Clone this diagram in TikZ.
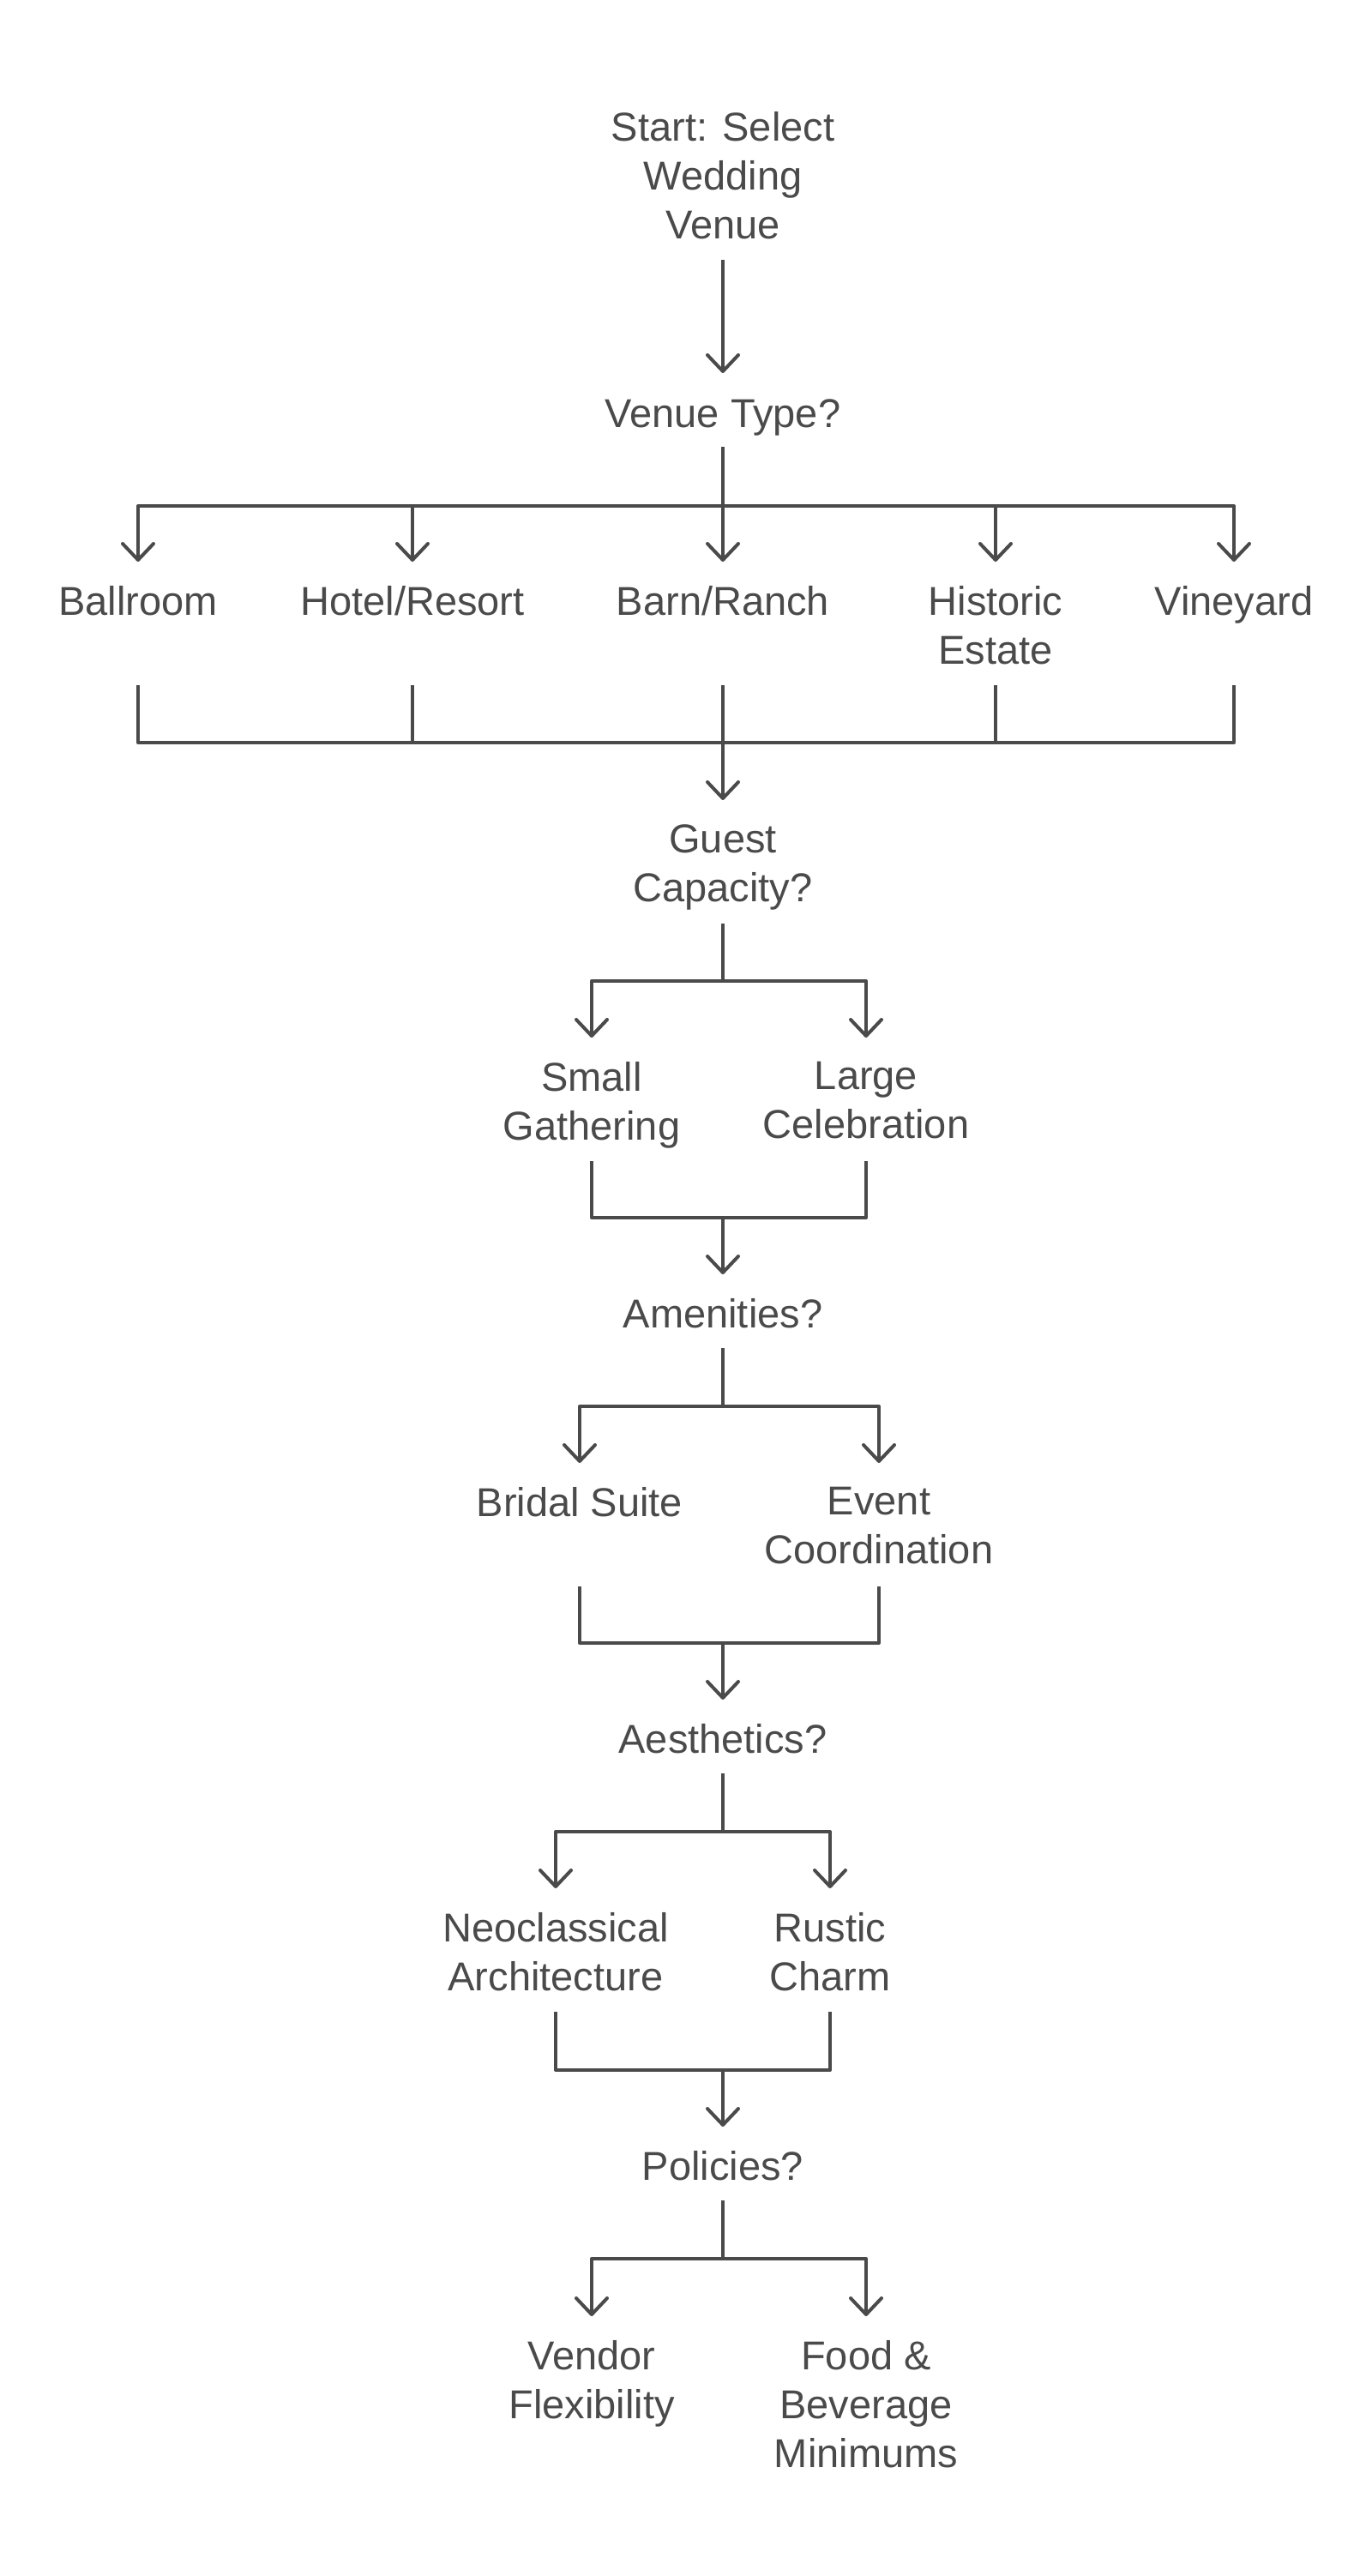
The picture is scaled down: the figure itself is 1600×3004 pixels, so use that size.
\documentclass[tikz,border=0pt]{standalone}
\usepackage{fontspec}
\setmainfont{Liberation Sans}
\usetikzlibrary{arrows.meta,calc}
\definecolor{ink}{HTML}{4A4A4A}
\begin{document}
\begin{tikzpicture}[x=0.5pt,y=-0.5pt,
  lbl/.style={anchor=north,inner sep=0pt,align=center,text=ink,font=\fontsize{23.5pt}{28.5pt}\selectfont},
  link/.style={draw=ink,line width=2pt,line join=round},
  arr/.style={link,-{Straight Barb[length=9.5pt,width=18pt,round]}}]
\useasboundingbox (0,0) rectangle (1600,3004);
% nodes
\node[lbl] (start) at (843,130) {Start: Select\\Wedding\\Venue};
\node[lbl] (vtype) at (843,465) {Venue Type?};
\node[lbl] (ball) at (161,683) {Ballroom};
\node[lbl] (hotel) at (481,683) {Hotel/Resort};
\node[lbl] (barn) at (843,683) {Barn/Ranch};
\node[lbl] (hist) at (1161,683) {Historic\\Estate};
\node[lbl] (vine) at (1439,683) {Vineyard};
\node[lbl] (guest) at (843,961) {Guest\\Capacity?};
\node[lbl] (small) at (690,1238) {Small\\Gathering};
\node[lbl] (large) at (1010,1238) {Large\\Celebration};
\node[lbl] (amen) at (843,1514) {Amenities?};
\node[lbl] (bridal) at (676,1734) {Bridal Suite};
\node[lbl] (event) at (1025,1734) {Event\\Coordination};
\node[lbl] (aest) at (843,2010) {Aesthetics?};
\node[lbl] (neo) at (648,2230) {Neoclassical\\Architecture};
\node[lbl] (rustic) at (968,2230) {Rustic\\Charm};
\node[lbl] (pol) at (843,2508) {Policies?};
\node[lbl] (vendor) at (690,2729) {Vendor\\Flexibility};
\node[lbl] (food) at (1010,2729) {Food \&\\Beverage\\Minimums};
% junctions
\coordinate (s1) at (843,590);
\coordinate (m1) at (843,866);
\coordinate (s2) at (843,1144);
\coordinate (m2) at (843,1420);
\coordinate (s3) at (843,1640);
\coordinate (m3) at (843,1916);
\coordinate (s4) at (843,2136);
\coordinate (m4) at (843,2414);
\coordinate (s5) at (843,2634);
% connectors
\draw[arr] ($(start.north)+(0,173)$) -- ($(vtype.north)+(0,-30)$);
\foreach \t in {ball,hotel,barn,hist,vine}
  \draw[arr] ($(vtype.north)+(0,56)$) -- (s1) -| ($(\t.north)+(0,-28)$);
\foreach \t in {ball,hotel,barn,hist,vine}
  \draw[link] ($(\t.north)+(0,116)$) |- (m1);
\draw[arr] (m1) -- ($(guest.north)+(0,-28)$);
\foreach \t in {small,large}
  \draw[arr] ($(guest.north)+(0,116)$) -- (s2) -| ($(\t.north)+(0,-28)$);
\foreach \t in {small,large}
  \draw[link] ($(\t.north)+(0,116)$) |- (m2);
\draw[arr] (m2) -- ($(amen.north)+(0,-28)$);
\foreach \t in {bridal,event}
  \draw[arr] ($(amen.north)+(0,58)$) -- (s3) -| ($(\t.north)+(0,-28)$);
\foreach \t in {bridal,event}
  \draw[link] ($(\t.north)+(0,116)$) |- (m3);
\draw[arr] (m3) -- ($(aest.north)+(0,-28)$);
\foreach \t in {neo,rustic}
  \draw[arr] ($(aest.north)+(0,58)$) -- (s4) -| ($(\t.north)+(0,-28)$);
\foreach \t in {neo,rustic}
  \draw[link] ($(\t.north)+(0,116)$) |- (m4);
\draw[arr] (m4) -- ($(pol.north)+(0,-28)$);
\foreach \t in {vendor,food}
  \draw[arr] ($(pol.north)+(0,58)$) -- (s5) -| ($(\t.north)+(0,-28)$);
\end{tikzpicture}
\end{document}
